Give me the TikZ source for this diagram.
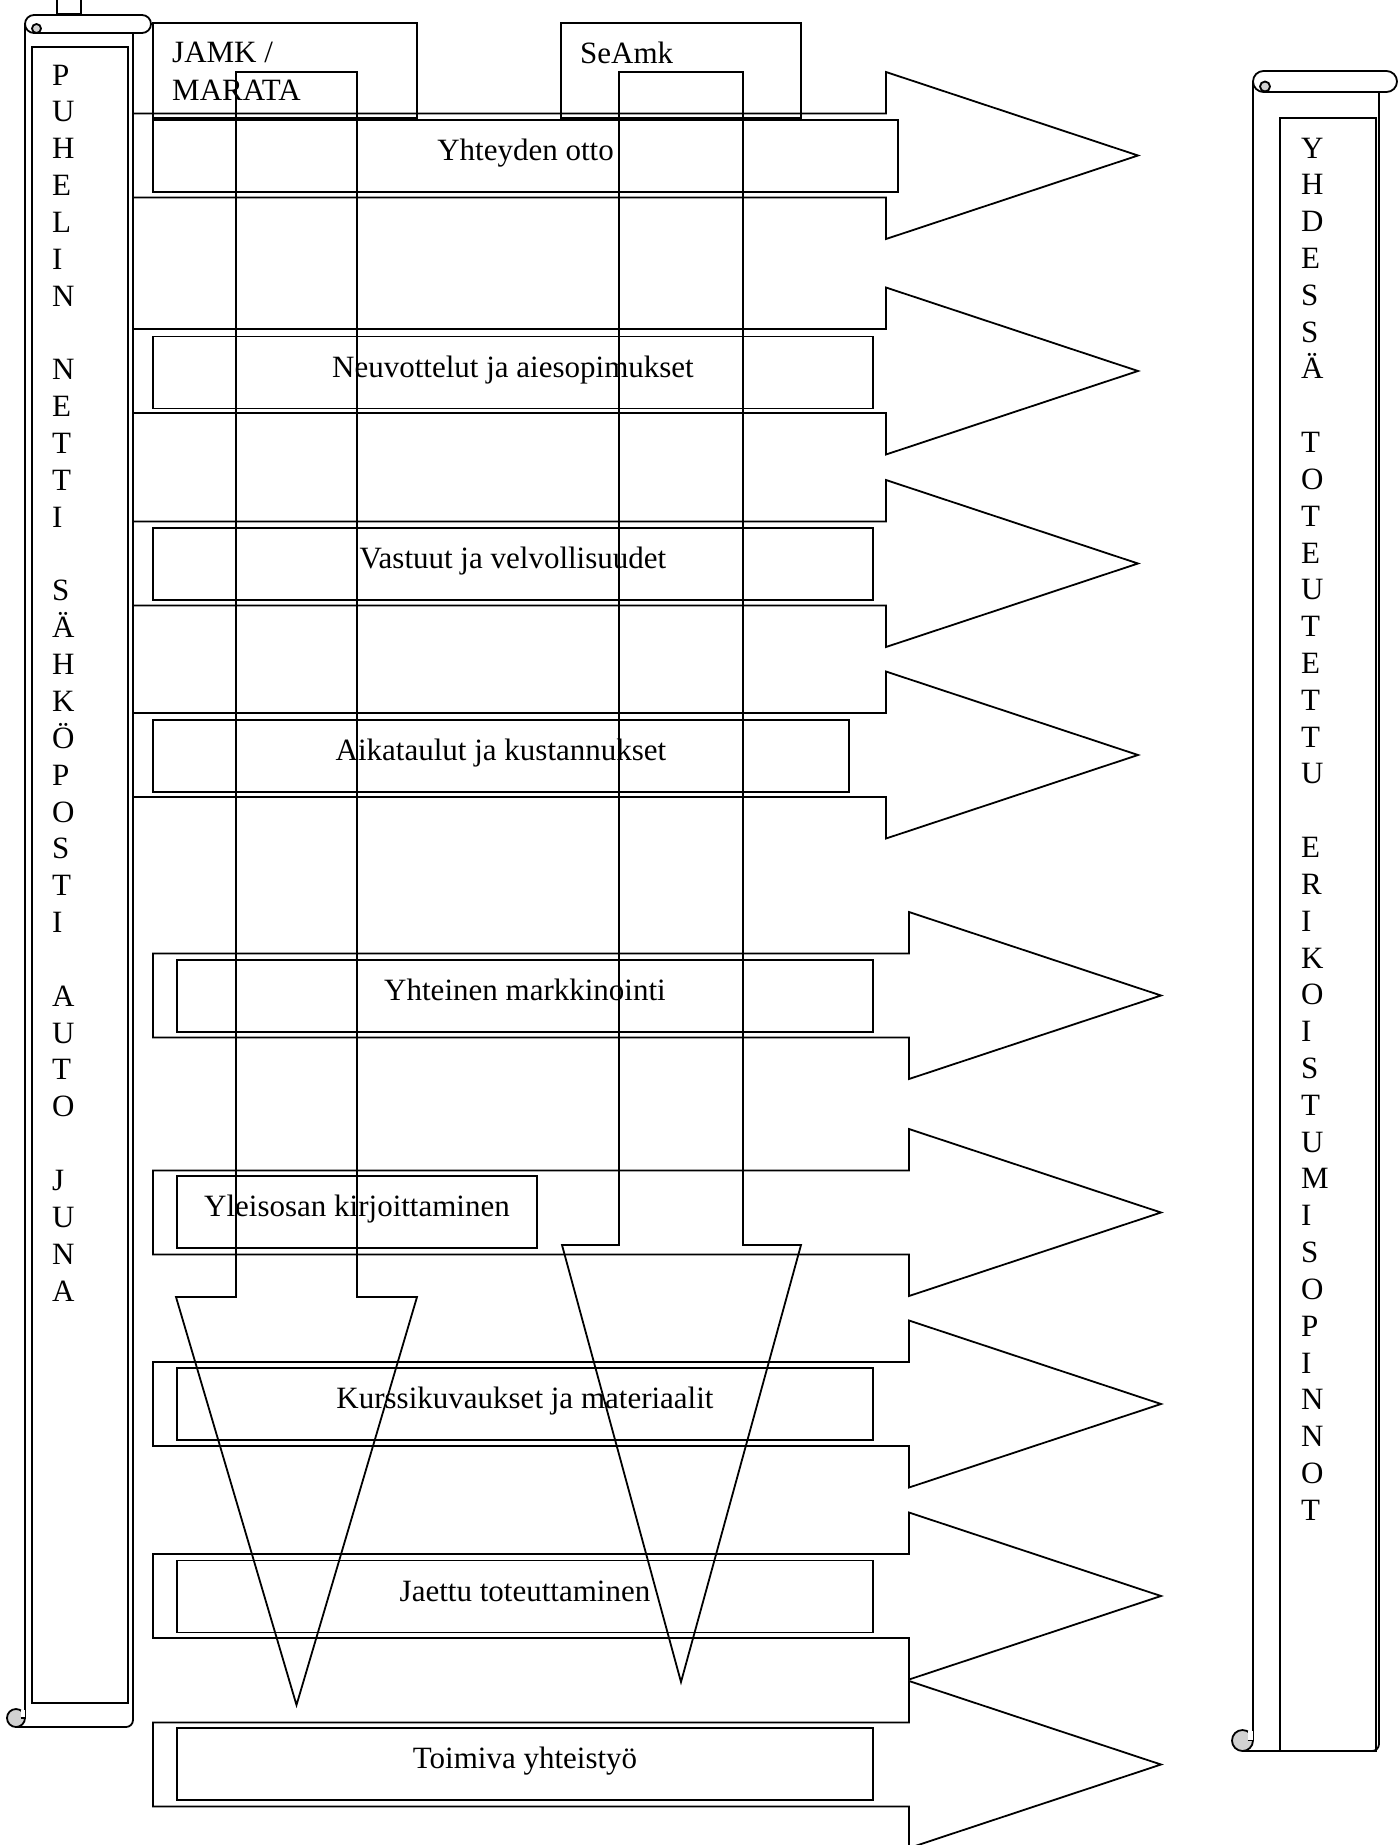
\documentclass[tikz,border=0pt]{standalone}
\usepackage{fontspec}
\setmainfont{Liberation Serif}
\newcommand\diagfont{\fontsize{31pt}{37pt}\selectfont}
\newcommand\rarrowshape[4]{% left, head base, tip, centre y
  \draw[ln] ({#1},{#4-42}) -- ({#2},{#4-42}) -- ({#2},{#4-83.5}) -- ({#3},{#4}) -- ({#2},{#4+83.5}) -- ({#2},{#4+42}) -- ({#1},{#4+42}) -- cycle;}
\begin{document}
\begin{tikzpicture}[x=1pt,y=-1pt,
  ln/.style={line width=1.8pt, line join=miter},
  tbox/.style={ln, draw, inner sep=0pt, minimum height=72pt, text height=21pt, text depth=12pt, font=\diagfont},
  letter/.style={anchor=base west, inner sep=0pt, font=\diagfont},
  curl/.style={ln, fill=gray!35}]
\useasboundingbox (0,0) rectangle (1398,1845);
% right-pointing block arrows
\rarrowshape{110}{886}{1138}{155.5}
\rarrowshape{110}{886}{1138}{371}
\rarrowshape{110}{886}{1138}{563.5}
\rarrowshape{110}{886}{1138}{755}
\rarrowshape{153}{909}{1161}{995.5}
\rarrowshape{153}{909}{1161}{1212.5}
\rarrowshape{153}{909}{1161}{1404}
\rarrowshape{153}{909}{1161}{1596}
\rarrowshape{153}{909}{1161}{1764.5}
% text boxes
\node[tbox, minimum width=745pt] (t1) at (525.5,156) {Yhteyden otto};
\node[tbox, minimum width=720pt] (t2) at (513,372.5) {Neuvottelut ja aiesopimukset};
\node[tbox, minimum width=720pt] (t3) at (513,564) {Vastuut ja velvollisuudet};
\node[tbox, minimum width=696pt] (t4) at (501,756) {Aikataulut ja kustannukset};
\node[tbox, minimum width=696pt] (t5) at (525,996) {Yhteinen markkinointi};
\node[tbox, minimum width=360pt] (t6) at (357,1212) {Yleisosan kirjoittaminen};
\node[tbox, minimum width=696pt] (t7) at (525,1404) {Kurssikuvaukset ja materiaalit};
\node[tbox, minimum width=696pt] (t8) at (525,1596.5) {Jaettu toteuttaminen};
\node[tbox, minimum width=696pt] (t9) at (525,1764) {Toimiva yhteistyö};
% header boxes
\node[ln, draw, inner sep=0pt, minimum width=264pt, minimum height=95pt] (jamk) at (285,70.5) {};
\node[ln, draw, inner sep=0pt, minimum width=240pt, minimum height=95pt] (seamk) at (681,70.5) {};
\node[letter] (jamk1) at (172,62) {JAMK /};
\node[letter] (jamk2) at (172,100) {MARATA};
\node[letter] (seamkt) at (580,63) {SeAmk};
% downward block arrows
\draw[ln] (236,72) -- (357,72) -- (357,1297) -- (417,1297) -- (296.5,1705) -- (176,1297) -- (236,1297) -- cycle;
\draw[ln] (619,72) -- (743,72) -- (743,1245) -- (801,1245) -- (681,1682) -- (562,1245) -- (619,1245) -- cycle;
% left scroll
\draw[ln] (57,-5) rectangle (81,14);
\fill[white] (25,24) rectangle (133,1727);
\draw[ln, rounded corners=7pt] (133,30) -- (133,1727) -- (16,1727);
\draw[ln] (25,24) -- (25,1718);
\draw[ln, fill=white, rounded corners=9pt] (25,15) rectangle (151,33);
\draw[curl] (36.5,28.5) circle (4.5pt);
\draw[curl] (16,1718) circle (9pt);
\fill[white] (20.5,1709.5) rectangle (24.5,1717);
\draw[ln] (20.5,1718) -- (25,1718);
\draw[ln] (32,47) rectangle (128,1703);
% right scroll
\fill[white] (1253,81) rectangle (1379,1751);
\draw[ln, rounded corners=7pt] (1379,88) -- (1379,1751) -- (1242,1751);
\draw[ln] (1253,81.5) -- (1253,1740);
\draw[ln, fill=white, rounded corners=10.5pt] (1253,71) rectangle (1397,92);
\draw[curl] (1265,86.5) circle (5pt);
\draw[curl] (1242.5,1740.5) circle (10.5pt);
\fill[white] (1247.5,1731) rectangle (1252.5,1739.5);
\draw[ln] (1247.5,1740.5) -- (1253,1740.5);
\draw[ln] (1280,118) rectangle (1376,1751);
% vertical words, left
\foreach \c [count=\i from 0] in {P,U,H,E,L,I,N}
  \node[letter] (la\i) at ({52},{85+\i*36.85}) {\c};
\foreach \c [count=\i from 0] in {N,E,T,T,I}
  \node[letter] (lb\i) at ({52},{85+(\i+8)*36.85}) {\c};
\foreach \c [count=\i from 0] in {S,Ä,H,K,Ö,P,O,S,T,I}
  \node[letter] (lc\i) at ({52},{85+(\i+14)*36.85}) {\c};
\foreach \c [count=\i from 0] in {A,U,T,O}
  \node[letter] (ld\i) at ({52},{85+(\i+25)*36.85}) {\c};
\foreach \c [count=\i from 0] in {J,U,N,A}
  \node[letter] (le\i) at ({52},{85+(\i+30)*36.85}) {\c};
% vertical words, right
\foreach \c [count=\i from 0] in {Y,H,D,E,S,S,Ä}
  \node[letter] (ra\i) at ({1301},{158+\i*36.82}) {\c};
\foreach \c [count=\i from 0] in {T,O,T,E,U,T,E,T,T,U}
  \node[letter] (rb\i) at ({1301},{158+(\i+8)*36.82}) {\c};
\foreach \c [count=\i from 0] in {E,R,I,K,O,I,S,T,U,M,I,S,O,P,I,N,N,O,T}
  \node[letter] (rc\i) at ({1301},{158+(\i+19)*36.82}) {\c};
\end{tikzpicture}
\end{document}
